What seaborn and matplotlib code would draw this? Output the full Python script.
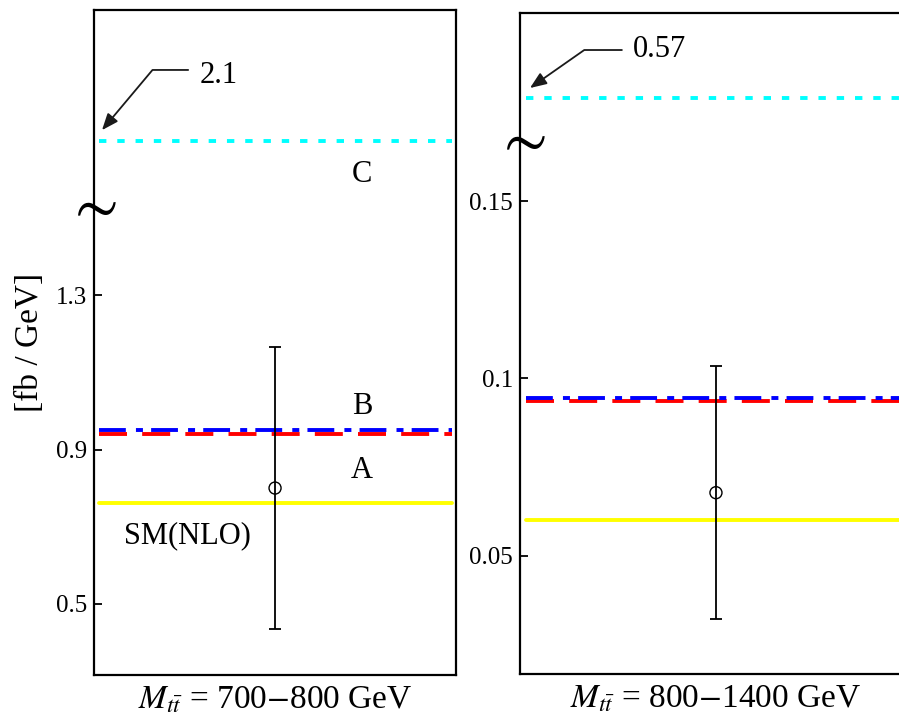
import matplotlib
matplotlib.use("Agg")
import matplotlib.pyplot as plt
import seaborn as sns

# two invariant-mass bins of the t tbar spectrum
bins = ["700-800", "800-1400"]
xlabels = [r"$M_{t\bar{t}}$ = 700$-$800 GeV", r"$M_{t\bar{t}}$ = 800$-$1400 GeV"]

# measured value with error (fb / GeV)
data_val = [0.80, 0.0678]
data_err = [0.365, 0.0357]

# model predictions (fb / GeV)
sm_nlo = [0.760, 0.0601]
model_a = [0.940, 0.0937]
model_b = [0.951, 0.0945]
model_c = [2.1, 0.57]            # off scale, value written next to the arrow
model_c_shown = [1.70, 0.179]    # where the line is drawn above the axis break

yticks = [[0.5, 0.9, 1.3], [0.05, 0.1, 0.15]]
ytick_labels = [["0.5", "0.9", "1.3"], ["0.05", "0.1", "0.15"]]
ylims = [(0.315, 2.04), (0.0167, 0.203)]

sns.set_theme(style="ticks")
plt.rcParams["font.family"] = ["Liberation Serif", "DejaVu Serif"]
plt.rcParams["mathtext.fontset"] = "stix"
plt.rcParams["text.color"] = "black"
plt.rcParams["axes.labelcolor"] = "black"

fig = plt.figure(figsize=(8.99, 7.18), dpi=100)
axes = [fig.add_axes([0.1046, 0.0599, 0.4027, 0.926]),
        fig.add_axes([0.5784, 0.0613, 0.436, 0.9206])]

lw = 2.8
for i, ax in enumerate(axes):
    ax.set_xlim(-0.5, 0.5)
    ax.set_ylim(*ylims[i])
    x0, x1 = 0.015, 0.99

    # model lines
    ax.axhline(sm_nlo[i], xmin=x0, xmax=x1, color="#FFFF00", lw=lw, zorder=2)
    ax.axhline(model_a[i], xmin=x0, xmax=x1, color="#FF0000", lw=lw,
               dashes=(7.2, 3.9), zorder=3)
    ax.axhline(model_b[i], xmin=x0, xmax=x1, color="#0000FF", lw=lw,
               dashes=(6.9, 2.6, 1.8, 2.1), zorder=4)
    ax.axhline(model_c_shown[i], xmin=x0, xmax=x1, color="#00FFFF", lw=lw,
               dashes=(1.9, 2.8), zorder=3)

    # data point
    ax.errorbar([0], [data_val[i]], yerr=[data_err[i]], fmt="none",
                ecolor="black", elinewidth=1.3, capsize=4, capthick=1.3, zorder=5)
    sns.scatterplot(x=[0], y=[data_val[i]], ax=ax, s=75, marker="o", zorder=6)
    pts = ax.collections[-1]
    pts.set_facecolor("none")
    pts.set_edgecolor("black")
    pts.set_linewidth(1.0)

    ax.set_yticks(yticks[i])
    ax.set_yticklabels(ytick_labels[i])
    ax.set_xticks([])
    ax.tick_params(axis="y", direction="in", length=6, width=1.3,
                   labelsize=18, pad=5, colors="black")
    for s in ax.spines.values():
        s.set_color("black")
        s.set_linewidth(1.6)

    ax.text(0.5, -0.051, xlabels[i], transform=ax.transAxes, ha="center",
            va="baseline", fontsize=24, clip_on=False)

# axis-break marks
axes[0].text(-0.008, 0.702, r"$\sim$", transform=axes[0].transAxes,
             ha="center", va="center", fontsize=46, clip_on=False)
axes[1].text(0.0, 0.805, r"$\sim$", transform=axes[1].transAxes,
             ha="center", va="center", fontsize=46, clip_on=False)

# arrows to the off-scale C values
arrow = dict(arrowstyle="-|>,head_length=1.0,head_width=0.4", color="0.1",
             lw=1.3, shrinkA=0, shrinkB=0, mutation_scale=10)
axes[0].annotate("", xy=(0.022, 0.8195), xycoords="axes fraction",
                 xytext=(0.26, 0.910), textcoords="axes fraction",
                 arrowprops=dict(arrow, connectionstyle="angle,angleA=0,angleB=50,rad=0"))
axes[0].text(0.293, 0.9015, f"{model_c[0]}", transform=axes[0].transAxes,
             ha="left", va="center", fontsize=22)
axes[1].annotate("", xy=(0.0255, 0.8865), xycoords="axes fraction",
                 xytext=(0.26, 0.944), textcoords="axes fraction",
                 arrowprops=dict(arrow, connectionstyle="angle,angleA=0,angleB=35,rad=0"))
axes[1].text(0.288, 0.9455, f"{model_c[1]}", transform=axes[1].transAxes,
             ha="left", va="center", fontsize=22)

# model labels
ax = axes[0]
ax.text(0.74, 0.741, "C", transform=ax.transAxes, ha="center", va="baseline", fontsize=22)
ax.text(0.74, 0.3925, "B", transform=ax.transAxes, ha="center", va="baseline", fontsize=22)
ax.text(0.74, 0.296, "A", transform=ax.transAxes, ha="center", va="baseline", fontsize=22)
ax.text(0.257, 0.1985, "SM(NLO)", transform=ax.transAxes, ha="center", va="baseline", fontsize=22)

ax.set_ylabel("[fb / GeV]", fontsize=24)
ax.yaxis.set_label_coords(-0.135, 0.5)

fig.savefig("out.png", dpi=100, facecolor="white")
